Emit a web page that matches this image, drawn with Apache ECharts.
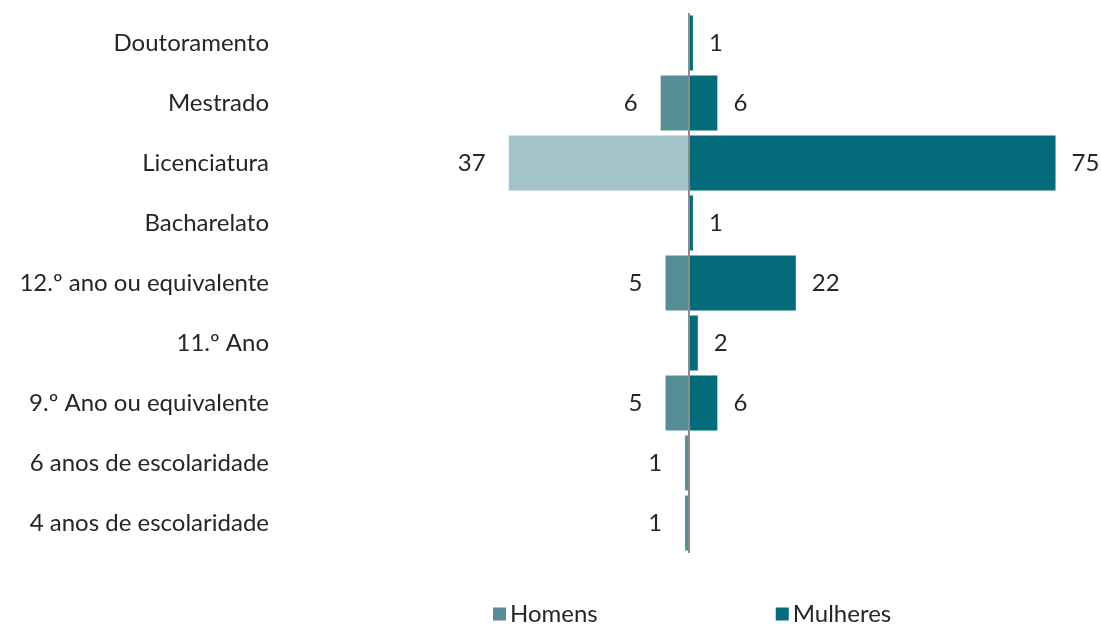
<!DOCTYPE html>
<html>
<head>
<meta charset="utf-8">
<script src="https://cdn.jsdelivr.net/npm/echarts@6/dist/echarts.min.js"></script>
<style>
html,body{margin:0;padding:0;background:#fff;}
#chart{width:1101px;height:624px;}
</style>
</head>
<body>
<div id="chart"></div>
<script>
const categories = [
  "Doutoramento",
  "Mestrado",
  "Licenciatura",
  "Bacharelato",
  "12.º ano ou equivalente",
  "11.º Ano",
  "9.º Ano ou equivalente",
  "6 anos de escolaridade",
  "4 anos de escolaridade"
];
const homens   = [0, 6, 37, 0, 5, 0, 5, 1, 1];
const mulheres = [1, 6, 75, 1, 22, 2, 6, 0, 0];
const seriesNames = ["Homens", "Mulheres"];
const highlightedCategory = "Licenciatura";

const FONT = "Lato";
const TXT = "#262626";
const cHomens = "#578D94";
const cHomensLight = "#A3C4CB";
const cMulheres = "#036B79";

const chart = echarts.init(document.getElementById('chart'));
chart.setOption({
  animation: false,
  textStyle: { fontFamily: FONT },
  grid: { left: 297, right: 20, top: 13, bottom: 71, containLabel: false },
  legend: {
    data: [
      { name: seriesNames[0], itemStyle: { color: cHomens } },
      { name: seriesNames[1], itemStyle: { color: cMulheres } }
    ],
    top: 597,
    left: 486,
    itemWidth: 15,
    itemHeight: 15,
    itemGap: 176,
    icon: 'rect',
    textStyle: { fontFamily: FONT, fontSize: 24, color: TXT, padding: [0,0,0,-2] }
  },
  xAxis: {
    type: 'value',
    min: -80,
    max: 80,
    show: false
  },
  yAxis: {
    type: 'category',
    inverse: true,
    data: categories,
    axisLine: { show: false },
    axisTick: { show: false },
    splitLine: { show: false },
    axisLabel: { fontFamily: FONT, fontSize: 24, color: TXT, margin: 28 }
  },
  series: [
    {
      name: seriesNames[0],
      type: 'bar',
      data: homens.map(v => -v),
      barGap: '-100%',
      barCategoryGap: '5%',
      itemStyle: {
        color: p => categories[p.dataIndex] === highlightedCategory ? cHomensLight : cHomens,
        borderColor: '#fff',
        borderWidth: 1
      },
      label: {
        show: true,
        position: 'left',
        distance: 22,
        fontFamily: FONT,
        fontSize: 24,
        color: TXT,
        formatter: p => p.value === 0 ? '' : String(Math.abs(p.value))
      },
      markLine: {
        silent: true,
        symbol: 'none',
        label: { show: false },
        lineStyle: { color: '#8C8C8C', width: 2, type: 'solid' },
        data: [{ xAxis: 0 }]
      },
      z: 2
    },
    {
      name: seriesNames[1],
      type: 'bar',
      data: mulheres,
      barGap: '-100%',
      barCategoryGap: '5%',
      itemStyle: { color: cMulheres, borderColor: '#fff', borderWidth: 1 },
      label: {
        show: true,
        position: 'right',
        distance: 15,
        fontFamily: FONT,
        fontSize: 24,
        color: TXT,
        formatter: p => p.value === 0 ? '' : String(p.value)
      },
      z: 2
    }
  ]
});
</script>
</body>
</html>
